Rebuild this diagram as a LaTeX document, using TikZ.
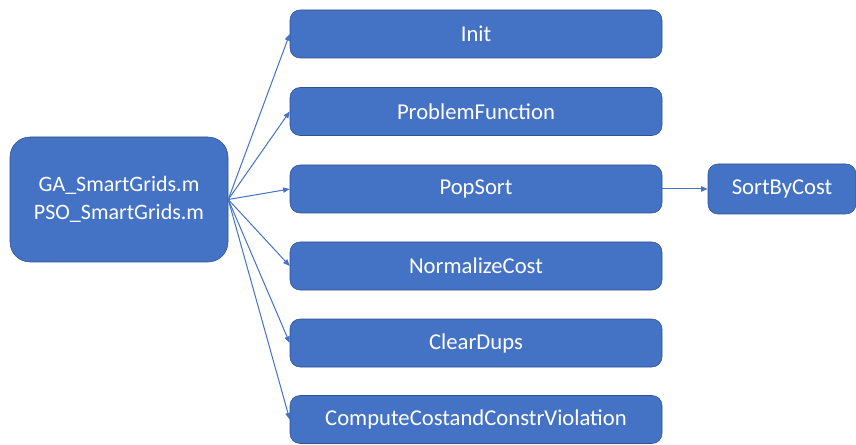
\documentclass[tikz,border=0pt]{standalone}
\usepackage{fontspec}
\setmainfont{Carlito}
\usetikzlibrary{arrows.meta, positioning}
\definecolor{boxfill}{HTML}{4472C4}
\definecolor{boxline}{HTML}{2F528F}
\tikzset{
	x = .75pt,
	y = -.75pt,
	line width = .75pt,
	>={Triangle[length=5pt, width=4pt]},
	font = \fontsize{17pt}{21pt}\selectfont,
	func/.style={
		draw=boxline,
		fill=boxfill,
		text=white,
		rounded corners=7.5pt,
		minimum width=279pt,
		minimum height=36pt,
		inner sep=0pt
	},
	main/.style={
		func,
		rounded corners=15pt,
		minimum width=163.5pt,
		minimum height=93.75pt,
		align=center,
		font=\fontsize{16.5pt}{21pt}\selectfont
	},
	call/.style={
		->,
		draw=boxfill,
		line width=.75pt
	}
}

\begin{document}
\begin{tikzpicture}
		\useasboundingbox (0,0) rectangle (856,445);
		\node[main] at (119,199.5) (ga) {GA\_SmartGrids.m\\PSO\_SmartGrids.m};
		\node[func] at (476,34) (init) {Init};
		\node[func] at (476,111.5) (prob) {ProblemFunction};
		\node[func] at (476,189) (pop) {PopSort};
		\node[func] at (476,266) (norm) {NormalizeCost};
		\node[func] at (476,343) (dups) {ClearDups};
		\node[func] at (476,419.5) (cost) {ComputeCostandConstrViolation};
		\node[func, minimum width=111pt, minimum height=37.5pt] at (782,189) (sort) {SortByCost};
		\foreach \f in {init, prob, pop, norm, dups, cost}
			\draw[call] (ga.east) -- (\f.west);
		\draw[call] (pop) -- (sort);
	\end{tikzpicture}
\end{document}
